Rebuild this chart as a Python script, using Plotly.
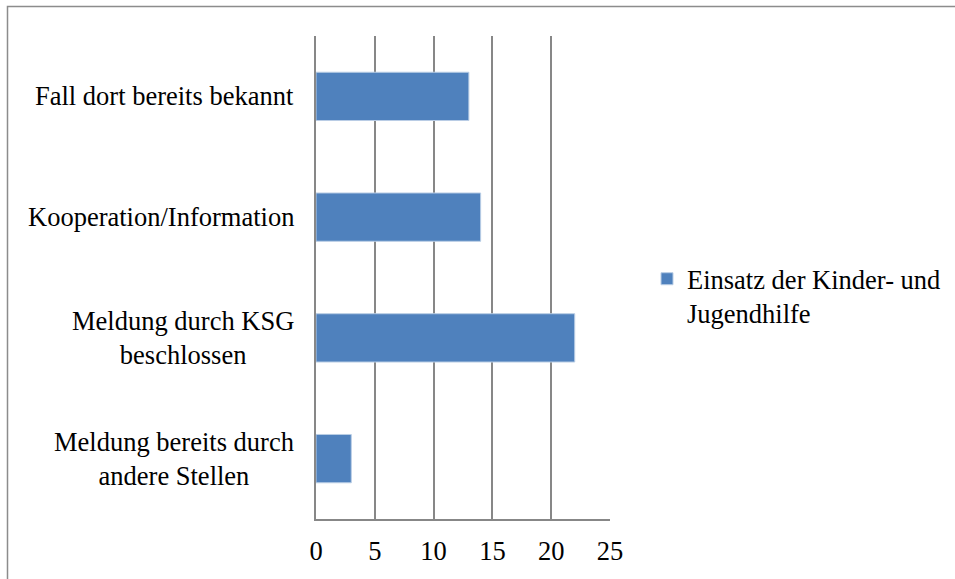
import plotly.graph_objects as go

categories = [
    "Fall dort bereits bekannt",
    "Kooperation/Information",
    "Meldung durch KSG<br>beschlossen",
    "Meldung bereits durch<br>andere Stellen",
]
values = [13, 14, 22, 3]
series_name = "Einsatz der Kinder- und<br>Jugendhilfe"
x_ticks = [0, 5, 10, 15, 20, 25]

W, H = 955, 579
L, R, T, B = 316, 610, 36, 519
FONT = "Liberation Serif"
FS = 26.5
GRID = "#878787"

fig = go.Figure()
fig.add_trace(go.Bar(
    y=categories, x=values, orientation="h", name=series_name,
    marker=dict(color="#4F81BD", line=dict(color="#B9CDE5", width=1)),
    showlegend=True,
))

pw, ph = R - L, B - T
def px_x(p):
    return (p - L) / pw
def px_y(p):
    return (B - p) / ph

for c in categories:
    fig.add_annotation(
        x=px_x(296), xref="paper", y=c, yref="y", text=c,
        showarrow=False, xanchor="right", align="center",
        font=dict(family=FONT, size=FS, color="black"),
    )

fig.add_shape(type="rect", xref="paper", yref="paper",
              x0=px_x(7.5), x1=px_x(990), y0=px_y(620), y1=px_y(6.5),
              line=dict(color="#8c8c8c", width=1.5), layer="below")

fig.update_layout(
    width=W, height=H,
    margin=dict(l=L, r=W - R, t=T, b=H - B, autoexpand=False),
    paper_bgcolor="white", plot_bgcolor="white",
    font=dict(family=FONT, size=FS, color="black"),
    bargap=0.6,
    legend=dict(xref="container", yref="container",
                x=647 / W, xanchor="left", y=1 - 255 / H, yanchor="top",
                valign="top", font=dict(family=FONT, size=FS, color="black"),
                bgcolor="rgba(0,0,0,0)"),
    xaxis=dict(range=[0, 25], tickvals=x_ticks, showgrid=True, gridcolor=GRID,
               gridwidth=1.5, zeroline=False, showline=True, linecolor=GRID,
               linewidth=1.5, ticks="", ticklabelstandoff=7, automargin=False,
               tickfont=dict(family=FONT, size=FS, color="black")),
    yaxis=dict(categoryorder="array", categoryarray=categories,
               autorange="reversed", showticklabels=False, showgrid=False,
               zeroline=False, showline=True, linecolor=GRID, linewidth=1.5,
               ticks="", automargin=False),
)

fig.write_html("out.html", config={"displayModeBar": False},
               post_script="document.body.style.margin='0';")
